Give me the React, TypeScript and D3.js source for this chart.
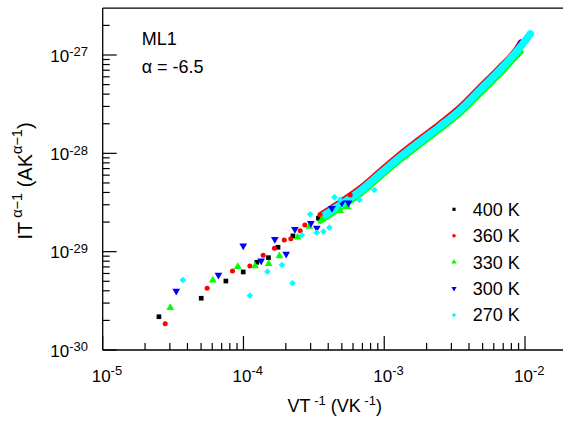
import React from 'react';
import * as d3 from 'd3';

const W = 563;
const H = 423;

const xTickExps = [-5, -4, -3, -2];
const yTickExps = [-30, -29, -28, -27];
const seriesLabels = ['400 K', '360 K', '330 K', '300 K', '270 K'];
const seriesColors = ['#000000', '#ff0000', '#00ff00', '#0000ff', '#00ffff'];

// Scattered (low V/T) points
const x400 = [2.51e-5, 5.01e-5, 7.5e-5, 9.96e-5, 1.245e-4, 1.505e-4, 1.76e-4, 2.245e-4, 3.41e-4];
const y400 = [2.18e-30, 3.36e-30, 5.03e-30, 6.22e-30, 7.8e-30, 8.69e-30, 1.109e-29, 1.445e-29, 2.19e-29];
const x360 = [2.78e-5, 5.52e-5, 8.36e-5, 1.11e-4, 1.38e-4, 1.66e-4, 1.95e-4, 2.17e-4, 2.53e-4, 2.73e-4, 3.51e-4, 5.73e-4];
const y360 = [1.85e-30, 4.24e-30, 6.36e-30, 7.15e-30, 9.19e-30, 1.083e-29, 1.315e-29, 1.356e-29, 1.635e-29, 1.87e-29, 2.36e-29, 3.77e-29];
const x330 = [3.02e-5, 6.06e-5, 9.12e-5, 1.21e-4, 1.51e-4, 1.8e-4, 2.42e-4, 2.94e-4, 3.61e-4, 4.86e-4, 5.48e-4];
const y330 = [2.69e-30, 5.12e-30, 7.04e-30, 7.15e-30, 7.55e-30, 9.04e-30, 1.4e-29, 1.8e-29, 2.14e-29, 2.61e-29, 2.87e-29];
const x300 = [3.33e-5, 6.64e-5, 9.96e-5, 1.336e-4, 1.67e-4, 2.01e-4, 2.32e-4, 3.01e-4, 3.32e-4, 4.25e-4, 5.0e-4, 5.57e-4];
const y300 = [3.98e-30, 5.79e-30, 1.151e-29, 8.1e-30, 1.337e-29, 9.48e-30, 1.69e-29, 1.945e-29, 1.742e-29, 2.76e-29, 3.15e-29, 3.15e-29];
const x270 = [3.71e-5, 1.11e-4, 1.48e-4, 1.875e-4, 2.23e-4, 2.6e-4, 2.98e-4, 3.32e-4, 3.7e-4, 4.08e-4, 4.43e-4, 4.86e-4, 6.67e-4, 8.51e-4];
const y270 = [5.15e-30, 3.57e-30, 6.26e-30, 7.32e-30, 4.77e-30, 1.479e-29, 2.4e-29, 1.56e-29, 1.6e-29, 1.755e-29, 3.57e-29, 3.36e-29, 3.36e-29, 4.24e-29];

// Dense (high V/T) points, overlapping into a continuous band
const bx400 = [3.51e-4, 4.86e-4, 6.75e-4, 9.35e-4, 1.3e-3, 1.8e-3, 2.49e-3, 3.46e-3, 4.8e-3, 6.65e-3];
const by400 = [2.31e-29, 3.13e-29, 4.34e-29, 6.47e-29, 9.63e-29, 1.385e-28, 1.969e-28, 2.9e-28, 4.63e-28, 7.39e-28];
const bx360 = [3.51e-4, 4.86e-4, 6.75e-4, 9.35e-4, 1.3e-3, 1.8e-3, 2.49e-3, 3.46e-3, 4.8e-3, 6.65e-3, 8.79e-3, 9.23e-3];
const by360 = [2.39e-29, 3.24e-29, 4.49e-29, 6.69e-29, 9.97e-29, 1.434e-28, 2.04e-28, 3.0e-28, 4.8e-28, 7.65e-28, 1.195e-27, 1.343e-27];
const bx330 = [3.51e-4, 4.86e-4, 6.75e-4, 9.35e-4, 1.3e-3, 1.8e-3, 2.49e-3, 3.46e-3, 4.8e-3, 6.65e-3, 8.79e-3, 9.4e-3];
const by330 = [2.03e-29, 2.76e-29, 3.82e-29, 5.69e-29, 8.47e-29, 1.219e-28, 1.732e-28, 2.53e-28, 4.0e-28, 6.35e-28, 9.8e-28, 1.075e-27];
const bx300 = [3.51e-4, 4.86e-4, 6.75e-4, 9.35e-4, 1.3e-3, 1.8e-3, 2.49e-3, 3.46e-3, 4.8e-3, 6.65e-3, 8.79e-3, 9.4e-3];
const by300 = [2.28e-29, 3.1e-29, 4.29e-29, 6.39e-29, 9.52e-29, 1.37e-28, 1.947e-28, 2.86e-28, 4.58e-28, 7.3e-28, 1.14e-27, 1.36e-27];
const bx270 = [3.51e-4, 4.86e-4, 6.75e-4, 9.35e-4, 1.3e-3, 1.8e-3, 2.49e-3, 3.46e-3, 4.8e-3, 6.65e-3, 8.79e-3, 1.09e-2];
const by270 = [2.2e-29, 2.99e-29, 4.14e-29, 6.17e-29, 9.19e-29, 1.322e-28, 1.879e-28, 2.763e-28, 4.42e-28, 7.05e-28, 1.101e-27, 1.64e-27];

const scatterX = [x400, x360, x330, x300, x270];
const scatterY = [y400, y360, y330, y300, y270];
const bandX = [bx400, bx360, bx330, bx300, bx270];
const bandY = [by400, by360, by330, by300, by270];

const FONT = "'Liberation Sans', Arial, Helvetica, sans-serif";

export default function App() {
  const x = d3.scaleLog().domain([1e-5, 1e-2]).range([102.7, 525]);
  const y = d3.scaleLog().domain([1e-30, 1e-27]).range([350, 55]);
  const left = x(1e-5);
  const bottom = y(1e-30);
  const top = y(3e-27);
  const right = W;

  const symTypes = [d3.symbolSquare, d3.symbolCircle, d3.symbolTriangle, d3.symbolTriangle, d3.symbolSquare];
  const symRot = [0, 0, 0, 180, 45];
  const symSize = [22, 20, 26, 26, 22];
  const legSize = [10, 10, 12, 12, 10];
  const bandWidth = [5, 5, 5, 5, 7.5];

  const xMinor: number[] = [];
  for (let d = -5; d <= -2; d++) for (let m = 2; m <= 9; m++) {
    const v = m * Math.pow(10, d);
    if (x(v) < right - 1) xMinor.push(v);
  }
  const yMinor: number[] = [];
  for (let d = -30; d <= -27; d++) for (let m = 2; m <= 9; m++) {
    const v = m * Math.pow(10, d);
    if (y(v) > top + 2) yMinor.push(v);
  }

  const line = d3.line<[number, number]>()
    .x(d => x(d[0]))
    .y(d => y(d[1]))
    .curve(d3.curveMonotoneX);

  return (
    <svg width={W} height={H} style={{ position: 'fixed', left: 0, top: 0, background: '#fff' }} fontFamily={FONT}>
      <rect x={0} y={0} width={W} height={H} fill="#fff" />
      {/* bands */}
      {bandX.map((bx, i) => (
        <path key={'b' + i}
          d={line(bx.map((v, j) => [v, bandY[i][j]] as [number, number])) || ''}
          fill="none" stroke={seriesColors[i]} strokeWidth={bandWidth[i]}
          strokeLinecap="round" strokeLinejoin="round" />
      ))}
      {/* markers */}
      {scatterX.map((xs, i) => {
        const p = d3.symbol().type(symTypes[i]).size(symSize[i])() || '';
        return (
          <g key={'s' + i} fill={seriesColors[i]}>
            {xs.map((v, j) => (
              <path key={j} d={p} transform={`translate(${x(v)},${y(scatterY[i][j])}) rotate(${symRot[i]})`} />
            ))}
          </g>
        );
      })}
      {/* frame */}
      <g stroke="#000" strokeWidth={1.3} fill="none">
        <line x1={left} y1={top} x2={right} y2={top} />
        <line x1={left} y1={top} x2={left} y2={bottom} />
        <line x1={left} y1={bottom} x2={right} y2={bottom} />
      </g>
      {/* ticks */}
      <g stroke="#000" strokeWidth={1.2}>
        {xTickExps.map(e => (
          <line key={'xM' + e} x1={x(Math.pow(10, e))} x2={x(Math.pow(10, e))} y1={bottom} y2={bottom - 14} />
        ))}
        {xMinor.map((v, i) => (
          <line key={'xm' + i} x1={x(v)} x2={x(v)} y1={bottom} y2={bottom - 7} />
        ))}
        {yTickExps.map(e => (
          <line key={'yM' + e} y1={y(Math.pow(10, e))} y2={y(Math.pow(10, e))} x1={left} x2={left + 14} />
        ))}
        {yMinor.map((v, i) => (
          <line key={'ym' + i} y1={y(v)} y2={y(v)} x1={left} x2={left + 7} />
        ))}
      </g>
      {/* x tick labels */}
      {xTickExps.map(e => (
        <text key={'xl' + e} x={x(Math.pow(10, e)) - 11} y={381.7} fontSize={17} fill="#000">
          10<tspan fontSize={13} dy={-6.5}>{String(e)}</tspan>
        </text>
      ))}
      {/* y tick labels */}
      {yTickExps.map(e => (
        <text key={'yl' + e} x={88} y={y(Math.pow(10, e)) + 6.7} fontSize={17} fill="#000" textAnchor="end">
          10<tspan fontSize={13} dy={-5.5}>{String(e)}</tspan>
        </text>
      ))}
      {/* axis titles */}
      <text x={334.7} y={411.7} fontSize={18} textAnchor="middle" fill="#000">
        VT<tspan fontSize={13} dy={-7}> -1</tspan><tspan dy={7}> (VK</tspan><tspan fontSize={13} dy={-7}> -1</tspan><tspan dy={7}>)</tspan>
      </text>
      <text transform="translate(32,181) rotate(-90)" fontSize={20} textAnchor="middle" fill="#000">
        IT<tspan fontSize={14.5} dy={-10.5}> α−1</tspan><tspan dy={10.5}> (AK</tspan><tspan fontSize={14.5} dy={-10.5}>α−1</tspan><tspan dy={10.5}>)</tspan>
      </text>
      {/* annotations */}
      <text x={141.7} y={45} fontSize={18} fill="#000">ML1</text>
      <text x={141.7} y={73.3} fontSize={18} fill="#000">α = -6.5</text>
      {/* legend */}
      {seriesLabels.map((lab, i) => {
        const cy = 209.3 + 26.4 * i;
        const p = d3.symbol().type(symTypes[i]).size(legSize[i])() || '';
        return (
          <g key={'lg' + i}>
            <path d={p} fill={seriesColors[i]} transform={`translate(454,${cy}) rotate(${symRot[i]})`} />
            <text x={472.7} y={cy + 6.5} fontSize={18} fill="#000">{lab}</text>
          </g>
        );
      })}
    </svg>
  );
}
